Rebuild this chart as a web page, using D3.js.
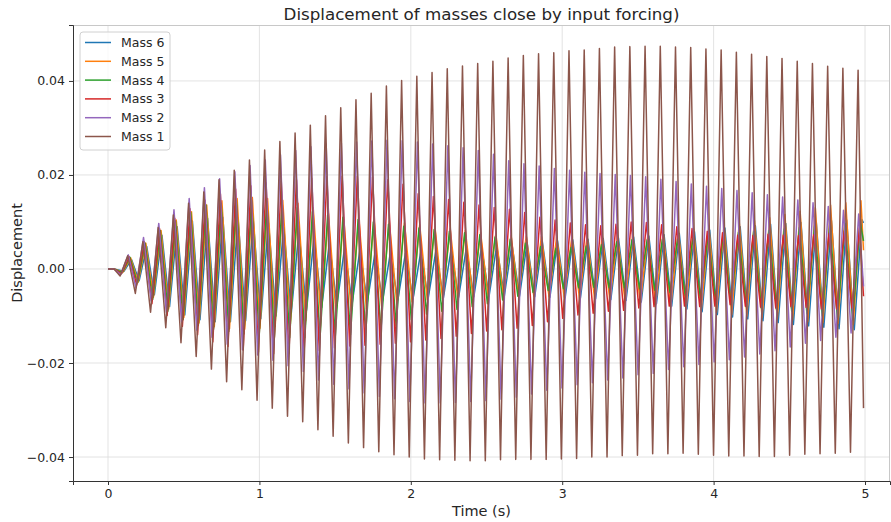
<!DOCTYPE html>
<html>
<head>
<meta charset="utf-8">
<script src="https://cdn.jsdelivr.net/npm/d3@7/dist/d3.min.js"></script>
<style>
  html, body { margin: 0; padding: 0; background: #fff; }
  svg { display: block; font-family: "DejaVu Sans", sans-serif; }
</style>
</head>
<body>
<svg id="chart" width="891" height="522"></svg>
<script>
// Six-mass chain driven at mass 1: displacement extremes per cycle (m)
// Troughs start at t = 0.08 s, peaks follow half a period later.
const firstExtreme = 0.08;   // s
const halfPeriod = 0.05025;  // s
const endTime = 4.99;        // s

const xTicks = [0, 1, 2, 3, 4, 5];
const yTicks = [-0.04, -0.02, 0, 0.02, 0.04];

const seriesNames = ["Mass 6", "Mass 5", "Mass 4", "Mass 3", "Mass 2", "Mass 1"];
const seriesColors = ["#1f77b4", "#ff7f0e", "#2ca02c", "#d62728", "#9467bd", "#8c564b"];
const seriesLag = [0.025, 0.019, 0.014, 0.009, 0.004, 0.0]; // s

const mass1Troughs = [-0.0015, -0.0052, -0.0092, -0.0125, -0.0157, -0.0186, -0.0213, -0.0240, -0.0257, -0.0279,
  -0.0296, -0.0313, -0.0325, -0.0342, -0.0356, -0.0370, -0.0380, -0.0389, -0.0395, -0.0400,
  -0.0404, -0.0406, -0.0407, -0.0408, -0.0408, -0.0406, -0.0405, -0.0405, -0.0405, -0.0404,
  -0.0403, -0.0400, -0.0400, -0.0397, -0.0396, -0.0393, -0.0393, -0.0392, -0.0394, -0.0396,
  -0.0398, -0.0398, -0.0399, -0.0399, -0.0396, -0.0394, -0.0393, -0.0392, -0.0390];
const mass1Peaks = [0.0028, 0.0058, 0.0088, 0.0115, 0.0140, 0.0164, 0.0190, 0.0210, 0.0232, 0.0253,
  0.0271, 0.0289, 0.0306, 0.0326, 0.0343, 0.0360, 0.0374, 0.0389, 0.0401, 0.0410,
  0.0418, 0.0426, 0.0432, 0.0437, 0.0442, 0.0449, 0.0454, 0.0458, 0.0460, 0.0464,
  0.0466, 0.0469, 0.0472, 0.0473, 0.0474, 0.0474, 0.0472, 0.0471, 0.0468, 0.0466,
  0.0461, 0.0457, 0.0452, 0.0448, 0.0442, 0.0437, 0.0431, 0.0427, 0.0423];

const mass2Troughs = [-0.0012, -0.0040, -0.0068, -0.0092, -0.0112, -0.0130, -0.0145, -0.0160, -0.0172, -0.0183,
  -0.0194, -0.0206, -0.0218, -0.0236, -0.0245, -0.0255, -0.0264, -0.0271, -0.0276, -0.0282,
  -0.0285, -0.0285, -0.0284, -0.0282, -0.0280, -0.0277, -0.0273, -0.0266, -0.0258, -0.0253,
  -0.0246, -0.0242, -0.0236, -0.0232, -0.0225, -0.0222, -0.0214, -0.0208, -0.0203, -0.0198,
  -0.0193, -0.0187, -0.0181, -0.0174, -0.0166, -0.0158, -0.0152, -0.0145, -0.0136];
const mass2Peaks = [0.0030, 0.0067, 0.0097, 0.0126, 0.0150, 0.0173, 0.0192, 0.0207, 0.0220, 0.0232,
  0.0243, 0.0252, 0.0260, 0.0266, 0.0268, 0.0270, 0.0272, 0.0274, 0.0273, 0.0270,
  0.0266, 0.0262, 0.0258, 0.0252, 0.0244, 0.0230, 0.0224, 0.0219, 0.0214, 0.0210,
  0.0206, 0.0203, 0.0201, 0.0199, 0.0196, 0.0191, 0.0186, 0.0181, 0.0176, 0.0171,
  0.0167, 0.0162, 0.0158, 0.0153, 0.0147, 0.0141, 0.0133, 0.0125, 0.0117];

const mass3Troughs = [-0.0010, -0.0034, -0.0074, -0.0099, -0.0122, -0.0140, -0.0155, -0.0165, -0.0172, -0.0177,
  -0.0180, -0.0180, -0.0178, -0.0174, -0.0168, -0.0164, -0.0162, -0.0160, -0.0158, -0.0155,
  -0.0151, -0.0148, -0.0143, -0.0137, -0.0132, -0.0129, -0.0126, -0.0120, -0.0112, -0.0105,
  -0.0098, -0.0094, -0.0090, -0.0088, -0.0083, -0.0080, -0.0079, -0.0079, -0.0080, -0.0079,
  -0.0076, -0.0079, -0.0081, -0.0083, -0.0080, -0.0082, -0.0085, -0.0085, -0.0083];
const mass3Peaks = [0.0026, 0.0058, 0.0086, 0.0108, 0.0128, 0.0146, 0.0160, 0.0170, 0.0177, 0.0183,
  0.0187, 0.0190, 0.0193, 0.0196, 0.0197, 0.0197, 0.0195, 0.0190, 0.0180, 0.0160,
  0.0154, 0.0148, 0.0142, 0.0136, 0.0131, 0.0127, 0.0120, 0.0110, 0.0104, 0.0098,
  0.0094, 0.0092, 0.0095, 0.0100, 0.0099, 0.0094, 0.0090, 0.0086, 0.0080, 0.0077,
  0.0072, 0.0071, 0.0074, 0.0072, 0.0071, 0.0073, 0.0076, 0.0081, 0.0087];

const mass4Troughs = [-0.0008, -0.0030, -0.0065, -0.0090, -0.0108, -0.0120, -0.0128, -0.0133, -0.0138, -0.0142,
  -0.0145, -0.0146, -0.0146, -0.0145, -0.0143, -0.0140, -0.0136, -0.0130, -0.0120, -0.0108,
  -0.0096, -0.0090, -0.0086, -0.0080, -0.0074, -0.0066, -0.0058, -0.0050, -0.0046, -0.0042,
  -0.0040, -0.0039, -0.0040, -0.0040, -0.0042, -0.0045, -0.0050, -0.0056, -0.0062, -0.0068,
  -0.0075, -0.0080, -0.0083, -0.0086, -0.0090, -0.0095, -0.0100, -0.0104, -0.0108];
const mass4Peaks = [0.0025, 0.0055, 0.0082, 0.0102, 0.0120, 0.0136, 0.0140, 0.0145, 0.0146, 0.0144,
  0.0138, 0.0130, 0.0122, 0.0115, 0.0110, 0.0105, 0.0100, 0.0095, 0.0091, 0.0087,
  0.0084, 0.0080, 0.0077, 0.0073, 0.0068, 0.0063, 0.0055, 0.0048, 0.0044, 0.0046,
  0.0049, 0.0052, 0.0058, 0.0062, 0.0062, 0.0063, 0.0064, 0.0066, 0.0070, 0.0075,
  0.0078, 0.0080, 0.0082, 0.0085, 0.0088, 0.0092, 0.0095, 0.0097, 0.0099];

const mass5Troughs = [-0.0007, -0.0028, -0.0060, -0.0085, -0.0103, -0.0115, -0.0123, -0.0127, -0.0128, -0.0126,
  -0.0122, -0.0117, -0.0110, -0.0102, -0.0095, -0.0090, -0.0085, -0.0080, -0.0075, -0.0070,
  -0.0066, -0.0063, -0.0061, -0.0060, -0.0059, -0.0058, -0.0058, -0.0058, -0.0059, -0.0060,
  -0.0062, -0.0064, -0.0067, -0.0070, -0.0073, -0.0077, -0.0081, -0.0085, -0.0089, -0.0093,
  -0.0097, -0.0100, -0.0103, -0.0106, -0.0109, -0.0112, -0.0114, -0.0116, -0.0118];
const mass5Peaks = [0.0024, 0.0055, 0.0082, 0.0104, 0.0122, 0.0136, 0.0145, 0.0150, 0.0152, 0.0150,
  0.0146, 0.0140, 0.0130, 0.0118, 0.0110, 0.0107, 0.0105, 0.0102, 0.0098, 0.0094,
  0.0090, 0.0086, 0.0082, 0.0078, 0.0075, 0.0072, 0.0070, 0.0069, 0.0068, 0.0068,
  0.0069, 0.0070, 0.0071, 0.0072, 0.0074, 0.0077, 0.0081, 0.0085, 0.0089, 0.0093,
  0.0098, 0.0103, 0.0109, 0.0116, 0.0123, 0.0130, 0.0136, 0.0141, 0.0145];

const mass6Troughs = [-0.0005, -0.0025, -0.0055, -0.0080, -0.0098, -0.0108, -0.0112, -0.0112, -0.0110, -0.0106,
  -0.0100, -0.0094, -0.0088, -0.0082, -0.0077, -0.0073, -0.0070, -0.0068, -0.0066, -0.0064,
  -0.0062, -0.0061, -0.0060, -0.0059, -0.0058, -0.0058, -0.0058, -0.0059, -0.0060, -0.0061,
  -0.0062, -0.0063, -0.0065, -0.0067, -0.0070, -0.0074, -0.0079, -0.0085, -0.0091, -0.0097,
  -0.0102, -0.0106, -0.0110, -0.0114, -0.0118, -0.0121, -0.0124, -0.0127, -0.0129];
const mass6Peaks = [0.0020, 0.0048, 0.0072, 0.0090, 0.0102, 0.0108, 0.0110, 0.0108, 0.0104, 0.0098,
  0.0090, 0.0080, 0.0068, 0.0055, 0.0045, 0.0038, 0.0034, 0.0032, 0.0033, 0.0035,
  0.0038, 0.0041, 0.0044, 0.0047, 0.0050, 0.0053, 0.0056, 0.0058, 0.0060, 0.0062,
  0.0063, 0.0065, 0.0066, 0.0068, 0.0070, 0.0073, 0.0076, 0.0079, 0.0083, 0.0087,
  0.0090, 0.0092, 0.0095, 0.0097, 0.0099, 0.0101, 0.0103, 0.0104, 0.0105];

// value at the last sample, in plotting order (Mass 6 ... Mass 1)
const endValues = [0.0098, 0.0040, 0.0060, -0.0058, -0.0037, -0.0296];

const troughSets = [mass6Troughs, mass5Troughs, mass4Troughs, mass3Troughs, mass2Troughs, mass1Troughs];
const peakSets = [mass6Peaks, mass5Peaks, mass4Peaks, mass3Peaks, mass2Peaks, mass1Peaks];

// Build each series: at rest, then alternating trough / peak, then the last sample
function buildSeries(i) {
  const pts = [[0, 0], [0.04, 0]];
  const tr = troughSets[i], pk = peakSets[i];
  for (let k = 0; k < tr.length; k++) {
    pts.push([firstExtreme + (2 * k) * halfPeriod + seriesLag[i], tr[k]]);
    pts.push([firstExtreme + (2 * k + 1) * halfPeriod + seriesLag[i], pk[k]]);
  }
  pts.push([endTime, endValues[i]]);
  return pts;
}

const svg = d3.select("#chart");
const plotLeft = 73, plotRight = 890, plotTop = 25, plotBottom = 481;

const x = d3.scaleLinear().domain([-0.2312, 5.165]).range([plotLeft, plotRight]);
const y = d3.scaleLinear().domain([-0.0451, 0.0519]).range([plotBottom, plotTop]);

// grid
const grid = svg.append("g");
grid.selectAll(".gx").data(xTicks).enter().append("line")
  .attr("x1", d => x(d)).attr("x2", d => x(d))
  .attr("y1", plotTop).attr("y2", plotBottom)
  .attr("stroke", "#dcdcdc").attr("stroke-width", 0.8);
grid.selectAll(".gy").data(yTicks).enter().append("line")
  .attr("x1", plotLeft).attr("x2", plotRight)
  .attr("y1", d => y(d)).attr("y2", d => y(d))
  .attr("stroke", "#dcdcdc").attr("stroke-width", 0.8);

// frame: light top/right, dark left/bottom
svg.append("line").attr("x1", plotLeft).attr("x2", plotRight).attr("y1", plotTop + 0.5).attr("y2", plotTop + 0.5)
  .attr("stroke", "#c8c8c8").attr("stroke-width", 1);
svg.append("line").attr("x1", plotRight - 0.5).attr("x2", plotRight - 0.5).attr("y1", plotTop).attr("y2", plotBottom)
  .attr("stroke", "#c8c8c8").attr("stroke-width", 1);

// lines
const line = d3.line().x(d => x(d[0])).y(d => y(d[1]));
const plot = svg.append("g");
seriesNames.forEach((name, i) => {
  plot.append("path")
    .datum(buildSeries(i))
    .attr("d", line)
    .attr("fill", "none")
    .attr("stroke", seriesColors[i])
    .attr("stroke-width", 1.5)
    .attr("stroke-linejoin", "round");
});

// axes
const fmtY = d => d3.format(".2f")(d).replace("-", "\u2212");
const xAxis = svg.append("g").attr("transform", `translate(0,${plotBottom})`)
  .call(d3.axisBottom(x).tickValues(xTicks).tickFormat(d3.format("d")).tickSize(4).tickPadding(4));
const yAxis = svg.append("g").attr("transform", `translate(${plotLeft},0)`)
  .call(d3.axisLeft(y).tickValues(yTicks).tickFormat(fmtY).tickSize(4).tickPadding(4));
[xAxis, yAxis].forEach(a => {
  a.select(".domain").attr("stroke", "#333").attr("stroke-width", 1);
  a.selectAll(".tick line").attr("stroke", "#333");
  a.selectAll(".tick text").attr("fill", "#262626")
    .style("font-family", "DejaVu Sans").style("font-size", "12.5px");
});

// labels
svg.append("text").attr("x", (plotLeft + plotRight) / 2).attr("y", 19.5)
  .attr("text-anchor", "middle").attr("fill", "#262626")
  .style("font-size", "16.7px").text("Displacement of masses close by input forcing)");
svg.append("text").attr("x", (plotLeft + plotRight) / 2).attr("y", 516)
  .attr("text-anchor", "middle").attr("fill", "#262626")
  .style("font-size", "14.5px").text("Time (s)");
svg.append("text")
  .attr("transform", `translate(22,${(plotTop + plotBottom) / 2}) rotate(-90)`)
  .attr("text-anchor", "middle").attr("fill", "#262626")
  .style("font-size", "14.5px").text("Displacement");

// legend (Mass 6 first)
const lg = svg.append("g").attr("transform", "translate(80,32)");
lg.append("rect").attr("width", 90).attr("height", 118).attr("rx", 3)
  .attr("fill", "#fff").attr("fill-opacity", 0.8).attr("stroke", "#d0d0d0");
seriesNames.forEach((name, i) => {
  const yy = 10.5 + i * 18.8;
  lg.append("line").attr("x1", 5).attr("x2", 31).attr("y1", yy).attr("y2", yy)
    .attr("stroke", seriesColors[i]).attr("stroke-width", 1.5);
  lg.append("text").attr("x", 41).attr("y", yy + 4.5)
    .attr("fill", "#262626").style("font-size", "12.5px").text(name);
});
</script>
</body>
</html>
